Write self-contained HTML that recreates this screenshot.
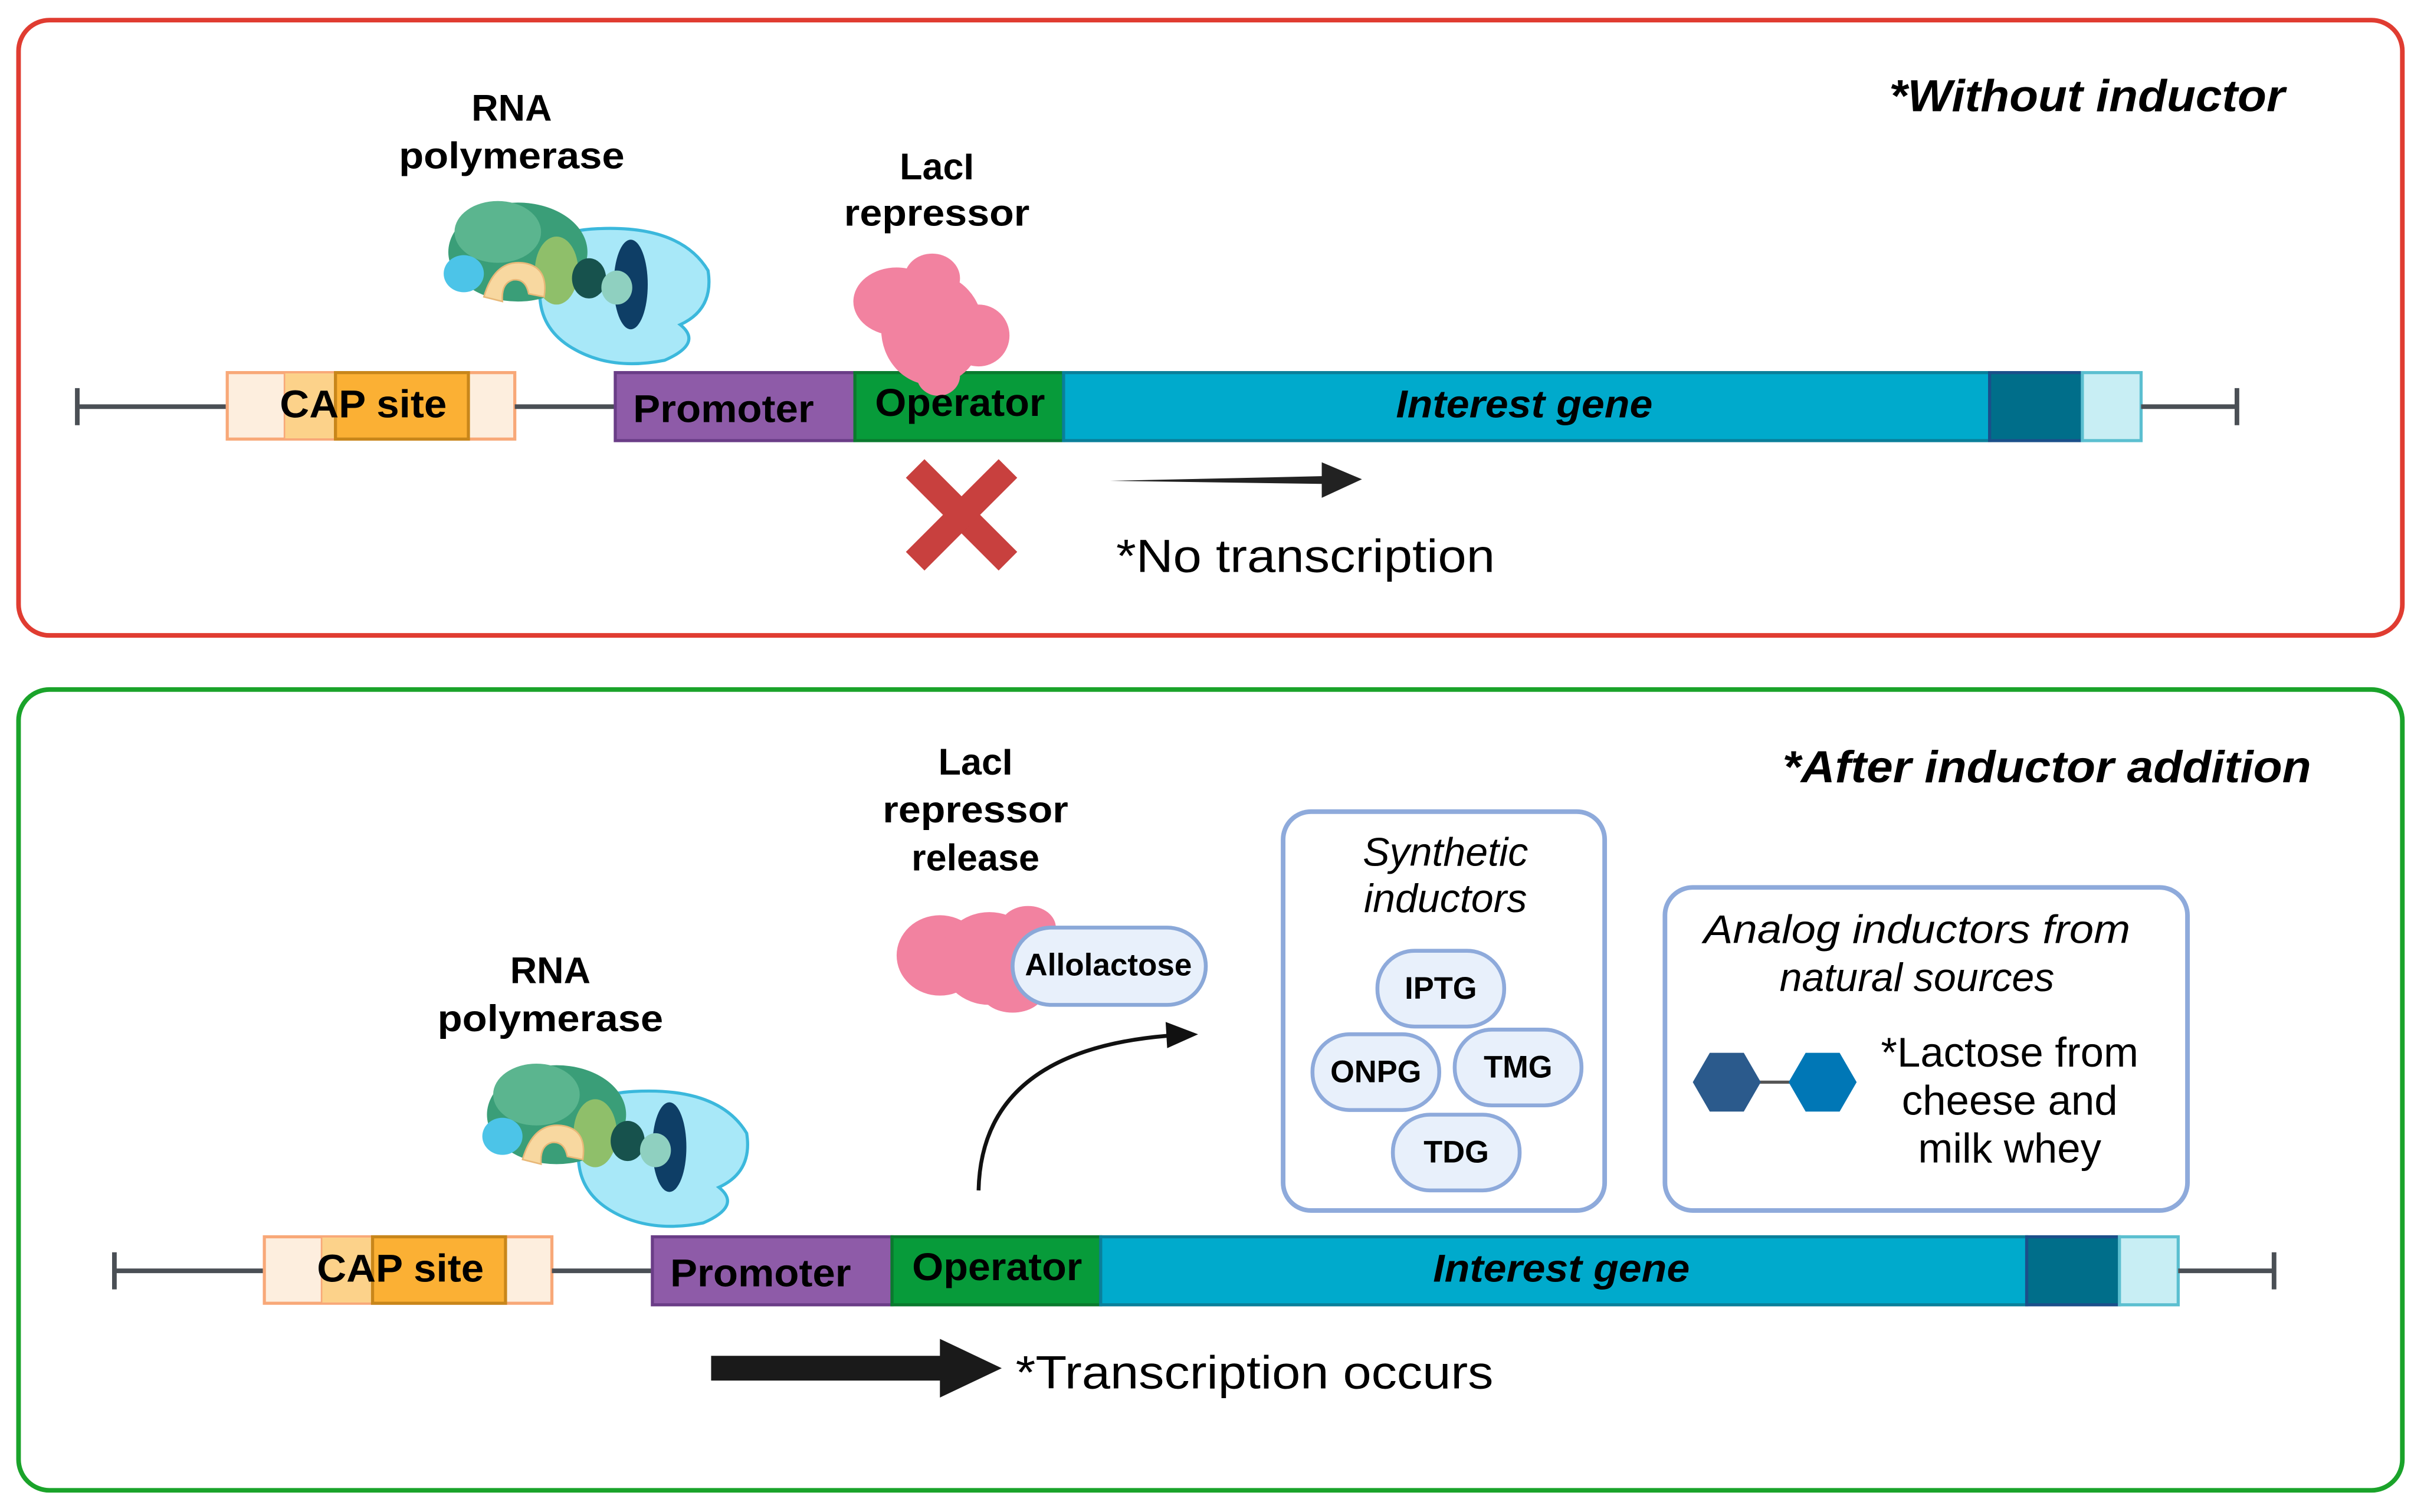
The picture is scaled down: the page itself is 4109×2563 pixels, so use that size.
<!DOCTYPE html>
<html><head><meta charset="utf-8"><style>
html,body{margin:0;padding:0;background:#fff;}
svg{display:block;}
text{font-family:"Liberation Sans",Arial,sans-serif;}
</style></head><body>
<svg width="4109" height="2563" viewBox="0 0 1568 978" xmlns="http://www.w3.org/2000/svg">
<rect width="1568" height="978" fill="#fff"/>
<rect x="12" y="13" width="1542" height="398" rx="20" fill="none" stroke="#e03c31" stroke-width="3"/>
<rect x="12" y="446" width="1542" height="518" rx="20" fill="none" stroke="#1aa32a" stroke-width="3"/>

<g id="dna1">
<line x1="50" y1="263" x2="147" y2="263" stroke="#4a4f55" stroke-width="3"/>
<line x1="50" y1="251" x2="50" y2="275" stroke="#4a4f55" stroke-width="3"/>
<rect x="147" y="241" width="186" height="43" fill="#fdeede" stroke="#f8a878" stroke-width="2"/>
<rect x="184" y="241" width="33" height="43" fill="#fcd28a" stroke="#f8a878" stroke-width="1"/>
<rect x="217" y="241" width="86" height="43" fill="#fbb034" stroke="#c8861a" stroke-width="2"/>
<line x1="333" y1="263" x2="398" y2="263" stroke="#4a4f55" stroke-width="3"/>
<rect x="398" y="241" width="155" height="44" fill="#8e5ba8" stroke="#6a3d87" stroke-width="2"/>
<rect x="553" y="241" width="135" height="44" fill="#079b3a" stroke="#0a7a2e" stroke-width="2"/>
<rect x="688" y="241" width="599" height="44" fill="#00aacc" stroke="#0a7f9a" stroke-width="2"/>
<rect x="1287" y="241" width="60" height="44" fill="#006e8a" stroke="#1b4f8a" stroke-width="2"/>
<rect x="1347" y="241" width="38" height="44" fill="#c8eef4" stroke="#5bbfd0" stroke-width="2"/>
<line x1="1385" y1="263" x2="1447" y2="263" stroke="#4a4f55" stroke-width="3"/>
<line x1="1447" y1="251" x2="1447" y2="275" stroke="#4a4f55" stroke-width="3"/>
</g>
<text x="235" y="270" font-size="25" font-weight="bold" text-anchor="middle" textLength="108" lengthAdjust="spacingAndGlyphs">CAP site</text>
<text x="468" y="273" font-size="25" font-weight="bold" text-anchor="middle" textLength="117" lengthAdjust="spacingAndGlyphs">Promoter</text>

<g id="pol">
<path d="M350 180 Q345 150 385 148 Q440 145 458 175 Q462 200 440 210 Q455 222 430 233 Q395 240 370 225 Q345 210 350 180 Z" fill="#a8e8f8" stroke="#3bb8dc" stroke-width="2"/>
<ellipse cx="335" cy="163" rx="45" ry="32" fill="#3a9e78"/>
<ellipse cx="322" cy="150" rx="28" ry="20" fill="#5bb58f"/>
<ellipse cx="360" cy="175" rx="14" ry="22" fill="#8fbf6a"/>
<ellipse cx="300" cy="177" rx="13" ry="12" fill="#4cc4e8"/>
<path d="M313 192 Q320 168 338 170 Q355 172 352 192 L342 190 Q340 180 332 181 Q324 183 325 195 Z" fill="#f8d8a0" stroke="#e8b878" stroke-width="1"/>
<ellipse cx="381" cy="180" rx="11" ry="13" fill="#17524d"/>
<ellipse cx="408" cy="184" rx="11" ry="29" fill="#0e3e66"/>
<ellipse cx="399" cy="186" rx="10" ry="11" fill="#8fd0c0"/>
</g>
<text x="331" y="78" font-size="24" font-weight="bold" text-anchor="middle">RNA</text>
<text x="331" y="109" font-size="24" font-weight="bold" text-anchor="middle" textLength="146" lengthAdjust="spacingAndGlyphs">polymerase</text>

<g fill="#f282a0">
<ellipse cx="580" cy="195" rx="28" ry="22"/>
<ellipse cx="603" cy="213" rx="33" ry="36"/>
<ellipse cx="633" cy="217" rx="20" ry="20"/>
<ellipse cx="603" cy="180" rx="18" ry="16"/>
<ellipse cx="607" cy="243" rx="14" ry="13"/>
</g>
<text x="606" y="116" font-size="24" font-weight="bold" text-anchor="middle">LacI</text>
<text x="606" y="146" font-size="24" font-weight="bold" text-anchor="middle" textLength="120" lengthAdjust="spacingAndGlyphs">repressor</text>
<text x="621" y="269" font-size="25" font-weight="bold" text-anchor="middle" textLength="110" lengthAdjust="spacingAndGlyphs">Operator</text>
<text x="986" y="270" font-size="25" font-weight="bold" font-style="italic" text-anchor="middle" textLength="166" lengthAdjust="spacingAndGlyphs">Interest gene</text>

<text x="1478" y="72" font-size="29" font-weight="bold" font-style="italic" text-anchor="end" textLength="256" lengthAdjust="spacingAndGlyphs">*Without inductor</text>

<g stroke="#c8403e" stroke-width="17">
<line x1="592" y1="303" x2="652" y2="363"/>
<line x1="652" y1="303" x2="592" y2="363"/>
</g>
<path d="M718 311 L855 308 L855 299 L881 310 L855 322 L855 313 Z" fill="#222"/>
<text x="722" y="370" font-size="30" textLength="245" lengthAdjust="spacingAndGlyphs">*No transcription</text>

<g transform="translate(24,559)">
<line x1="50" y1="263" x2="147" y2="263" stroke="#4a4f55" stroke-width="3"/>
<line x1="50" y1="251" x2="50" y2="275" stroke="#4a4f55" stroke-width="3"/>
<rect x="147" y="241" width="186" height="43" fill="#fdeede" stroke="#f8a878" stroke-width="2"/>
<rect x="184" y="241" width="33" height="43" fill="#fcd28a" stroke="#f8a878" stroke-width="1"/>
<rect x="217" y="241" width="86" height="43" fill="#fbb034" stroke="#c8861a" stroke-width="2"/>
<line x1="333" y1="263" x2="398" y2="263" stroke="#4a4f55" stroke-width="3"/>
<rect x="398" y="241" width="155" height="44" fill="#8e5ba8" stroke="#6a3d87" stroke-width="2"/>
<rect x="553" y="241" width="135" height="44" fill="#079b3a" stroke="#0a7a2e" stroke-width="2"/>
<rect x="688" y="241" width="599" height="44" fill="#00aacc" stroke="#0a7f9a" stroke-width="2"/>
<rect x="1287" y="241" width="60" height="44" fill="#006e8a" stroke="#1b4f8a" stroke-width="2"/>
<rect x="1347" y="241" width="38" height="44" fill="#c8eef4" stroke="#5bbfd0" stroke-width="2"/>
<line x1="1385" y1="263" x2="1447" y2="263" stroke="#4a4f55" stroke-width="3"/>
<line x1="1447" y1="251" x2="1447" y2="275" stroke="#4a4f55" stroke-width="3"/>
<text x="235" y="270" font-size="25" font-weight="bold" text-anchor="middle" textLength="108" lengthAdjust="spacingAndGlyphs">CAP site</text>
<text x="468" y="273" font-size="25" font-weight="bold" text-anchor="middle" textLength="117" lengthAdjust="spacingAndGlyphs">Promoter</text>
<text x="621" y="269" font-size="25" font-weight="bold" text-anchor="middle" textLength="110" lengthAdjust="spacingAndGlyphs">Operator</text>
<text x="986" y="270" font-size="25" font-weight="bold" font-style="italic" text-anchor="middle" textLength="166" lengthAdjust="spacingAndGlyphs">Interest gene</text>
</g>

<use href="#pol" transform="translate(25,558)"/>
<text x="356" y="636" font-size="24" font-weight="bold" text-anchor="middle">RNA</text>
<text x="356" y="667" font-size="24" font-weight="bold" text-anchor="middle" textLength="146" lengthAdjust="spacingAndGlyphs">polymerase</text>

<text x="631" y="501" font-size="24" font-weight="bold" text-anchor="middle">LacI</text>
<text x="631" y="532" font-size="24" font-weight="bold" text-anchor="middle" textLength="120" lengthAdjust="spacingAndGlyphs">repressor</text>
<text x="631" y="563" font-size="24" font-weight="bold" text-anchor="middle">release</text>

<g fill="#f282a0">
<ellipse cx="608" cy="618" rx="28" ry="26"/>
<ellipse cx="640" cy="620" rx="32" ry="30"/>
<ellipse cx="665" cy="600" rx="18" ry="14"/>
<ellipse cx="655" cy="642" rx="20" ry="13"/>
</g>
<rect x="655" y="600" width="125" height="50" rx="25" fill="#e8f0fb" stroke="#8aa8d8" stroke-width="2.5"/>
<text x="717" y="631" font-size="20" font-weight="bold" text-anchor="middle" textLength="108" lengthAdjust="spacingAndGlyphs">Allolactose</text>

<path d="M633 770 Q635 680 755 670" fill="none" stroke="#111" stroke-width="2.5"/>
<path d="M754 661 L775 669 L755 678 Z" fill="#111"/>

<text x="1495" y="506" font-size="29" font-weight="bold" font-style="italic" text-anchor="end" textLength="342" lengthAdjust="spacingAndGlyphs">*After inductor addition</text>

<rect x="830" y="525" width="208" height="258" rx="18" fill="#fff" stroke="#8eaadb" stroke-width="3"/>
<text x="935" y="560" font-size="26" font-style="italic" text-anchor="middle">Synthetic</text>
<text x="935" y="590" font-size="26" font-style="italic" text-anchor="middle">inductors</text>
<g fill="#e8f0fb" stroke="#8eaadb" stroke-width="2.5">
<rect x="891" y="615" width="82" height="49" rx="24"/>
<rect x="849" y="669" width="82" height="49" rx="24"/>
<rect x="941" y="666" width="82" height="49" rx="24"/>
<rect x="901" y="721" width="82" height="49" rx="24"/>
</g>
<g font-size="20" font-weight="bold" text-anchor="middle">
<text x="932" y="646">IPTG</text>
<text x="890" y="700">ONPG</text>
<text x="982" y="697">TMG</text>
<text x="942" y="752">TDG</text>
</g>

<rect x="1077" y="574" width="338" height="209" rx="18" fill="#fff" stroke="#8eaadb" stroke-width="3"/>
<text x="1240" y="610" font-size="26" font-style="italic" text-anchor="middle" textLength="276" lengthAdjust="spacingAndGlyphs">Analog inductors from</text>
<text x="1240" y="641" font-size="26" font-style="italic" text-anchor="middle">natural sources</text>
<line x1="1130" y1="700" x2="1168" y2="700" stroke="#555" stroke-width="2"/>
<polygon points="1095,700 1106,681 1128,681 1139,700 1128,719 1106,719" fill="#2b5a8c"/>
<polygon points="1157,700 1168,681 1190,681 1201,700 1190,719 1168,719" fill="#0077b6"/>
<g font-size="27" text-anchor="middle">
<text x="1300" y="690">*Lactose from</text>
<text x="1300" y="721">cheese and</text>
<text x="1300" y="752">milk whey</text>
</g>

<path d="M460 877 L608 877 L608 866 L648 885 L608 904 L608 893 L460 893 Z" fill="#1a1a1a"/>
<text x="657" y="898" font-size="30" textLength="309" lengthAdjust="spacingAndGlyphs">*Transcription occurs</text>
</svg>
</body></html>
